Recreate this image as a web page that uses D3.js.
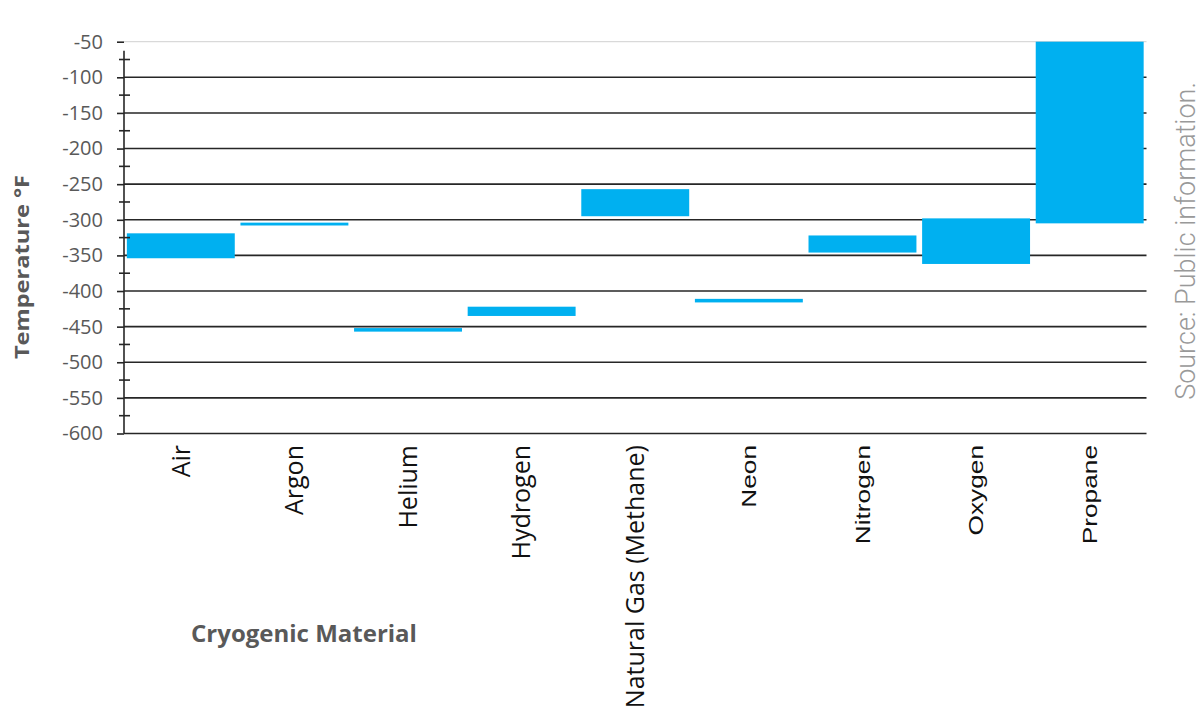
<!DOCTYPE html>
<html lang="en">
<head>
  <meta charset="utf-8">
  <title>Cryogenic Material Temperature Ranges</title>
  <script src="https://d3js.org/d3.v7.min.js"></script>
  <style>
    html, body { margin:0; padding:0; background:#fff; }
    svg { display:block; }
  </style>
</head>
<body>
  <div id="chart"></div>
  <script>
    // ─── Data ────────────────────────────────────────────────────────────────
    const categories = ["Air", "Argon", "Helium", "Hydrogen", "Natural Gas (Methane)",
                        "Neon", "Nitrogen", "Oxygen", "Propane"];
    // top (warmest) and bottom (coldest) of each floating bar, °F
    const highTemps = [-319, -304, -452, -422, -257, -411, -322, -298, -50];
    const lowTemps  = [-354, -308, -457, -435, -295, -416, -346, -362, -305];
    const yTicks      = [-50, -100, -150, -200, -250, -300, -350, -400, -450, -500, -550, -600];
    const yMinorTicks = [-75, -125, -175, -225, -275, -325, -375, -425, -475, -525, -575];
    // ─────────────────────────────────────────────────────────────────────────

    const W = 1201, H = 717;
    const svg = d3.select("#chart").append("svg")
      .attr("width", W).attr("height", H);

    const plotLeft = 124, plotRight = 1146.5, plotTop = 41.7, plotBottom = 433.5;

    const x = d3.scaleBand()
      .domain(categories)
      .range([plotLeft, plotRight])
      .paddingInner(0.05)
      .paddingOuter(0.025);

    const y = d3.scaleLinear()
      .domain([-50, -600])
      .range([plotTop, plotBottom]);

    // Gridlines
    svg.append("g")
      .selectAll("line")
      .data(yTicks)
      .join("line")
        .attr("x1", plotLeft).attr("x2", plotRight)
        .attr("y1", d => y(d)).attr("y2", d => y(d))
        .attr("stroke", d => d === -50 ? "#d9d9d9" : "#262626")
        .attr("stroke-width", d => d === -50 ? 1.2 : 1.6);

    // Bars
    svg.append("g")
      .selectAll("rect")
      .data(categories)
      .join("rect")
        .attr("x", d => x(d))
        .attr("width", x.bandwidth())
        .attr("y", (d, i) => y(highTemps[i]))
        .attr("height", (d, i) => y(lowTemps[i]) - y(highTemps[i]))
        .attr("fill", "#00b0f0");

    // Y axis: major ticks + labels (plain hyphen, like the source)
    const yAxis = svg.append("g")
      .attr("transform", `translate(${plotLeft},0)`)
      .call(d3.axisLeft(y).tickValues(yTicks).tickSize(7).tickPadding(14)
        .tickFormat(d => String(d)));
    yAxis.select(".domain").remove();
    yAxis.selectAll(".tick line").attr("stroke", "#262626").attr("stroke-width", 1.6);
    yAxis.selectAll(".tick text")
      .style("font-family", "'Open Sans', sans-serif")
      .style("font-size", "20px")
      .attr("fill", "#595959");

    // spine
    svg.append("line")
      .attr("x1", plotLeft).attr("x2", plotLeft)
      .attr("y1", y(-50) + 9).attr("y2", y(-600))
      .attr("stroke", "#262626").attr("stroke-width", 1.6);

    // minor ticks crossing the spine
    svg.append("g")
      .selectAll("line")
      .data(yMinorTicks)
      .join("line")
        .attr("x1", plotLeft - 5).attr("x2", plotLeft + 6)
        .attr("y1", d => y(d)).attr("y2", d => y(d))
        .attr("stroke", "#262626").attr("stroke-width", 1.6);

    // Category labels (rotated)
    svg.append("g")
      .selectAll("text")
      .data(categories)
      .join("text")
        .attr("transform", (d, i) => {
          const cx = x(d) + x.bandwidth() / 2;
          return i < 5
            ? `translate(${cx},445) rotate(-90)`
            : `translate(${cx},445) rotate(-90) scale(1.25,1)`;
        })
        .attr("text-anchor", "end")
        .attr("dy", "0.35em")
        .style("font-family", (d, i) => i < 5 ? "'Open Sans', sans-serif" : "'Liberation Sans', Arial, sans-serif")
        .style("font-size", (d, i) => i < 5 ? "25px" : "21px")
        .attr("fill", "#111")
        .text(d => d);

    // Axis titles
    svg.append("text")
      .attr("transform", "translate(29,267) rotate(-90) scale(1.18,1)")
      .attr("text-anchor", "middle")
      .style("font-family", "'Open Sans', sans-serif")
      .style("font-size", "20px")
      .style("font-weight", "bold")
      .attr("fill", "#595959")
      .text("Temperature °F");

    svg.append("text")
      .attr("x", 304).attr("y", 642)
      .attr("text-anchor", "middle")
      .style("font-family", "'Open Sans', sans-serif")
      .style("font-size", "24px")
      .style("font-weight", "bold")
      .attr("fill", "#595959")
      .text("Cryogenic Material");

    // Source note
    svg.append("text")
      .attr("transform", "translate(1195,241) rotate(-90)")
      .attr("text-anchor", "middle")
      .style("font-family", "Roboto, sans-serif")
      .style("font-size", "27px")
      .style("font-weight", 300)
      .attr("fill", "#999999")
      .text("Source: Public information.");
  </script>
</body>
</html>
